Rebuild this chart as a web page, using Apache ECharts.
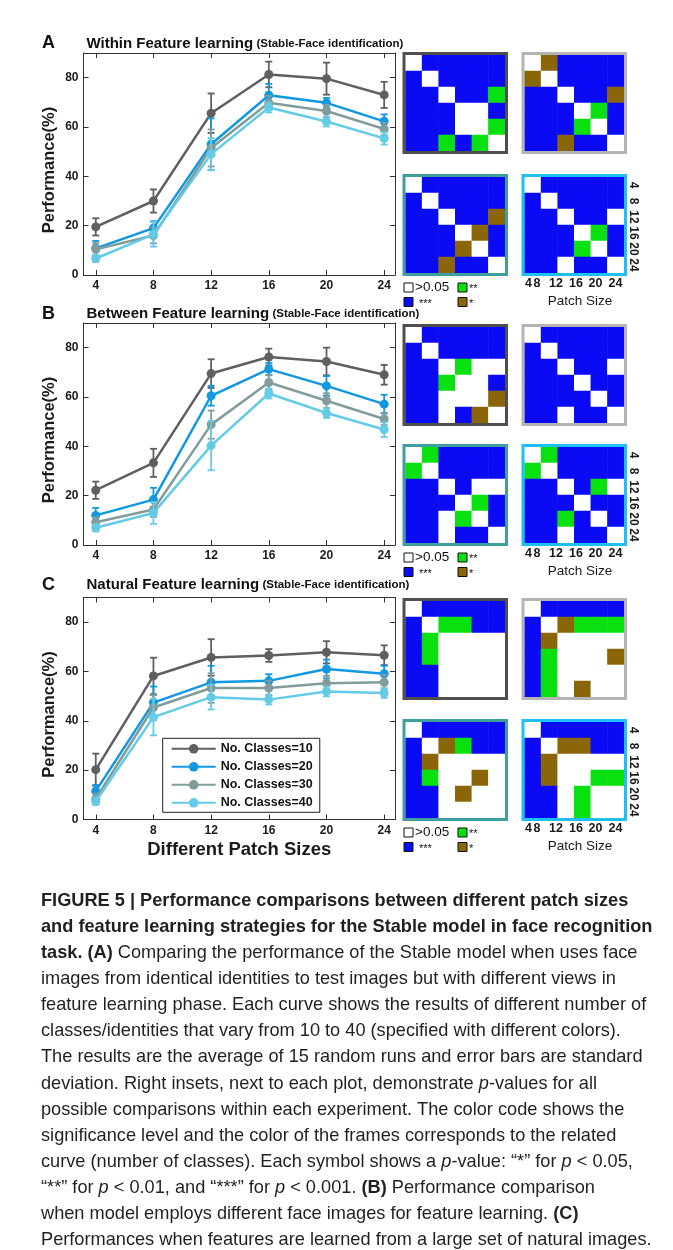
<!DOCTYPE html>
<html><head><meta charset="utf-8">
<script src="https://cdn.jsdelivr.net/npm/echarts@6/dist/echarts.min.js"></script>
<style>html,body{margin:0;padding:0;background:#fff}#c{width:673px;height:1250px}</style>
</head><body><div id="c"></div>
<script>
// ---------- DATA ----------
const patchSizes = [4, 8, 12, 16, 20, 24];
const patchLabels = ['4', '8', '12', '16', '20', '24'];
const yTicks = [0, 20, 40, 60, 80];
const classNames = ['No. Classes=10', 'No. Classes=20', 'No. Classes=30', 'No. Classes=40'];
const panelLetters = ['A', 'B', 'C'];
const panelTitles = ['Within Feature learning', 'Between Feature learning', 'Natural Feature learning'];
const panelSubtitle = '(Stable-Face identification)';
const yAxisTitle = 'Performance(%)';
const xAxisTitle = 'Different Patch Sizes';
const heatAxisTitle = 'Patch Size';
const sigLevels = ['>0.05', '*', '**', '***'];

// (A) Within feature learning: mean and SD, one row per class count (10,20,30,40)
const meanWithin = [
  [19.5, 30.0, 65.6, 81.3, 79.6, 73.0],
  [10.8, 19.0, 53.0, 72.9, 69.8, 62.3],
  [10.4, 16.0, 51.5, 69.8, 66.5, 59.2],
  [6.7, 16.5, 49.0, 67.9, 62.2, 55.4]
];
const sdWithin = [
  [3.5, 4.7, 8.0, 5.2, 6.5, 5.3],
  [3.0, 2.8, 10.5, 4.6, 2.0, 2.8],
  [2.5, 3.2, 7.5, 2.8, 2.5, 2.5],
  [1.5, 5.0, 6.5, 2.0, 2.0, 2.5]
];
// (B) Between feature learning
const meanBetween = [
  [22.2, 33.3, 69.5, 76.2, 74.4, 69.0],
  [12.0, 18.4, 60.5, 71.3, 64.5, 57.1],
  [9.2, 14.4, 48.8, 65.9, 58.5, 51.1],
  [7.0, 13.0, 40.3, 61.4, 53.5, 46.8]
];
const sdBetween = [
  [3.5, 5.7, 5.8, 3.4, 5.6, 4.0],
  [3.0, 4.8, 4.0, 2.5, 4.0, 3.8],
  [2.0, 3.0, 5.7, 3.0, 3.0, 2.5],
  [1.5, 4.4, 10.0, 2.0, 2.0, 3.0]
];
// (C) Natural feature learning
const meanNatural = [
  [20.2, 58.2, 65.7, 66.5, 67.8, 66.6],
  [11.5, 47.4, 55.6, 56.2, 61.0, 59.1],
  [8.4, 45.4, 53.3, 53.3, 55.2, 55.6],
  [7.4, 41.5, 49.6, 48.6, 51.9, 51.3]
];
const sdNatural = [
  [6.5, 7.4, 7.4, 2.6, 4.5, 4.0],
  [2.5, 6.5, 6.7, 2.7, 3.8, 3.2],
  [2.0, 5.0, 6.0, 3.0, 3.0, 3.0],
  [1.5, 7.4, 5.0, 2.0, 2.0, 2.0]
];
// p-value matrices (0: >0.05, 1: *, 2: **, 3: ***), rows/cols = patch sizes 4..24
// order: classes 10, 20, 30, 40
const pWithin = [
  ['033333', '303333', '330332', '333003', '333002', '332320'],
  ['013333', '103333', '330331', '333023', '333203', '331330'],
  ['033333', '303333', '330331', '333013', '333103', '331330'],
  ['033333', '303333', '330330', '333023', '333203', '330330']
];
const pBetween = [
  ['033333', '303333', '330200', '332003', '330001', '330310'],
  ['033333', '303333', '330330', '333033', '333303', '330330'],
  ['023333', '203333', '330300', '333023', '330203', '330330'],
  ['023333', '203333', '330320', '333033', '332303', '330330']
];
const pNatural = [
  ['033333', '302233', '320000', '320000', '330000', '330000'],
  ['033333', '301222', '310000', '320001', '320000', '320100'],
  ['033333', '301233', '310000', '320010', '330100', '330000'],
  ['033333', '301133', '310000', '310022', '330200', '330200']
];
const captionLines = [
  '{b|FIGURE 5 | Performance comparisons between different patch sizes}',
  '{b|and feature learning strategies for the Stable model in face recognition}',
  '{b|task. (A)} Comparing the performance of the Stable model when uses face',
  'images from identical identities to test images but with different views in',
  'feature learning phase. Each curve shows the results of different number of',
  'classes/identities that vary from 10 to 40 (specified with different colors).',
  'The results are the average of 15 random runs and error bars are standard',
  'deviation. Right insets, next to each plot, demonstrate {i|p}-values for all',
  'possible comparisons within each experiment. The color code shows the',
  'significance level and the color of the frames corresponds to the related',
  'curve (number of classes). Each symbol shows a {i|p}-value: \u201c*\u201d for {i|p} < 0.05,',
  '\u201c**\u201d for {i|p} < 0.01, and \u201c***\u201d for {i|p} < 0.001. {b|(B)} Performance comparison',
  'when model employs different face images for feature learning. {b|(C)}',
  'Performances when features are learned from a large set of natural images.'
];

// ---------- STYLE / LAYOUT ----------
const FONT = "'Liberation Sans', Arial, Helvetica, sans-serif";
const seriesColors = ['#5f5f5f', '#1098e0', '#829c9c', '#63cbe8'];
const frameColors = ['#4f4f4f', '#b4b4b4', '#3f9f9f', '#1ec0f4'];
const sigColors = ['#ffffff', '#8b6608', '#08e010', '#0a0af5'];
const L = {
  plotLeft: 83.5, plotWidth: 311.5, plotHeight: 222,
  plotTops: [53, 323, 597.5],
  titleY: [43.5, 314, 585],
  hmLefts: [405.5, 524.5],
  hmTops: [[55, 177], [327, 447], [601, 722]],
  hmW: 99.5, hmH: 96,
  xMin: 3.15, xMax: 24.75, yMin: 0, yMax: 90,
  capFont: 18.2
};
const panelData = [
  [meanWithin, sdWithin, pWithin],
  [meanBetween, sdBetween, pBetween],
  [meanNatural, sdNatural, pNatural]
];

const grid = [], xAxis = [], yAxis = [], series = [], graphic = [];
const heatSeriesIdx = [];
const axisCol = '#333';

function renderErr(params, api) {
  const x = api.value(0), lo = api.value(1), hi = api.value(2);
  const a = api.coord([x, lo]), b = api.coord([x, hi]);
  const hw = 3.5;
  const st = { stroke: api.visual('color'), lineWidth: 1.8 };
  return { type: 'group', children: [
    { type: 'line', shape: { x1: a[0], y1: a[1], x2: b[0], y2: b[1] }, style: st },
    { type: 'line', shape: { x1: a[0] - hw, y1: a[1], x2: a[0] + hw, y2: a[1] }, style: st },
    { type: 'line', shape: { x1: b[0] - hw, y1: b[1], x2: b[0] + hw, y2: b[1] }, style: st }
  ]};
}

panelData.forEach(([mean, sd, pm], k) => {
  const top = L.plotTops[k];
  const gi = grid.length;
  grid.push({ left: L.plotLeft, top: top, width: L.plotWidth, height: L.plotHeight });
  const xi = xAxis.length, yi = yAxis.length;
  const tickCommon = { inside: true, length: 5, lineStyle: { color: axisCol, width: 1 } };
  xAxis.push({
    type: 'value', gridIndex: gi, position: 'bottom', min: L.xMin, max: L.xMax,
    axisLine: { onZero: false, lineStyle: { color: axisCol, width: 1 } },
    axisTick: Object.assign({ customValues: patchSizes }, tickCommon),
    axisLabel: { customValues: patchSizes, margin: 5, fontFamily: FONT, fontWeight: 'bold', fontSize: 12, color: '#1a1a1a' },
    splitLine: { show: false },
    name: k === 2 ? xAxisTitle : '', nameLocation: 'middle', nameGap: 21,
    nameTextStyle: { fontFamily: FONT, fontWeight: 'bold', fontSize: 18.5, color: '#1a1a1a' }
  });
  xAxis.push({
    type: 'value', gridIndex: gi, position: 'top', min: L.xMin, max: L.xMax,
    axisLine: { onZero: false, lineStyle: { color: axisCol, width: 1 } },
    axisTick: Object.assign({ customValues: patchSizes }, tickCommon),
    axisLabel: { show: false }, splitLine: { show: false }
  });
  yAxis.push({
    type: 'value', gridIndex: gi, position: 'left', min: L.yMin, max: L.yMax,
    axisLine: { show: true, onZero: false, lineStyle: { color: axisCol, width: 1 } },
    axisTick: Object.assign({ show: true, customValues: yTicks }, tickCommon),
    axisLabel: { customValues: yTicks, margin: 5, fontFamily: FONT, fontWeight: 'bold', fontSize: 12, color: '#1a1a1a' },
    splitLine: { show: false },
    name: yAxisTitle, nameLocation: 'middle', nameGap: 26,
    nameTextStyle: { fontFamily: FONT, fontWeight: 'bold', fontSize: 16.5, color: '#1a1a1a', padding: [0, 12, 0, 0] }
  });
  yAxis.push({
    type: 'value', gridIndex: gi, position: 'right', min: L.yMin, max: L.yMax,
    axisLine: { show: true, onZero: false, lineStyle: { color: axisCol, width: 1 } },
    axisTick: Object.assign({ show: true, customValues: yTicks }, tickCommon),
    axisLabel: { show: false }, splitLine: { show: false }
  });
  mean.forEach((row, c) => {
    series.push({
      type: 'custom', name: 'err' + k + c, xAxisIndex: xi, yAxisIndex: yi,
      itemStyle: { color: seriesColors[c] }, z: 3 + c * 2, silent: true,
      renderItem: renderErr,
      encode: { x: 0, y: [1, 2] },
      data: patchSizes.map((x, i) => [x, row[i] - sd[c][i], row[i] + sd[c][i]])
    });
    series.push({
      type: 'line', name: classNames[c], xAxisIndex: xi, yAxisIndex: yi,
      data: patchSizes.map((x, i) => [x, row[i]]),
      symbol: 'circle', symbolSize: 9, showAllSymbol: true,
      lineStyle: { width: 2.5, color: seriesColors[c] },
      itemStyle: { color: seriesColors[c] }, z: 4 + c * 2, animation: false
    });
  });

  // panel letter + title
  graphic.push({ type: 'text', x: 42, y: L.titleY[k], z: 100,
    style: { text: panelLetters[k], font: "bold 18px " + FONT, fill: '#111', verticalAlign: 'middle' } });
  graphic.push({ type: 'text', x: 86.5, y: L.titleY[k], z: 100,
    style: { text: '{t|' + panelTitles[k] + '} {s|' + panelSubtitle + '}',
      font: "bold 12px " + FONT, fill: '#111', verticalAlign: 'middle',
      rich: { t: { font: "bold 15px " + FONT, fill: '#111' }, s: { font: "bold 11.5px " + FONT, fill: '#111' } } } });

  // heatmaps
  pm.forEach((mat, q) => {
    const left = L.hmLefts[q % 2], htop = L.hmTops[k][q >> 1];
    const hg = grid.length;
    grid.push({ left: left, top: htop, width: L.hmW, height: L.hmH });
    const hx = xAxis.length, hy = yAxis.length;
    xAxis.push({ type: 'category', gridIndex: hg, data: patchLabels, show: false });
    const showRight = q === 3;
    yAxis.push({ type: 'category', gridIndex: hg, data: patchLabels, inverse: true, position: 'right', show: showRight,
      axisLine: { show: false }, axisTick: { show: false },
      axisLabel: { interval: 0, hideOverlap: false, rotate: -90, margin: 3, fontFamily: FONT, fontWeight: 'bold', fontSize: 12, color: '#1a1a1a' } });
    const data = [];
    mat.forEach((r, ri) => r.split('').forEach((ch, ci) => data.push([ci, ri, +ch])));
    heatSeriesIdx.push(series.length);
    series.push({ type: 'heatmap', xAxisIndex: hx, yAxisIndex: hy, data: data, silent: true,
      emphasis: { disabled: true }, progressive: 0 });
    graphic.push({ type: 'rect', z: 100, silent: true,
      shape: { x: left - 1.5, y: htop - 1.5, width: L.hmW + 3, height: L.hmH + 3 },
      style: { fill: 'none', stroke: frameColors[q], lineWidth: 3 } });
  });

  // significance legend under bottom-left heatmap
  const blBottom = L.hmTops[k][1] + L.hmH;
  const rowsY = [blBottom + 14.5, blBottom + 29];
  const legItems = [
    [0, 404, rowsY[0], 415, 13.5], [2, 458, rowsY[0], 469, 11],
    [3, 404, rowsY[1], 419, 11], [1, 458, rowsY[1], 469, 11]
  ];
  legItems.forEach(([lv, sx, sy, tx, fs]) => {
    graphic.push({ type: 'rect', z: 100, shape: { x: sx, y: sy - 4.5, width: 9, height: 9 },
      style: { fill: sigColors[lv], stroke: '#111', lineWidth: 1 } });
    graphic.push({ type: 'text', x: tx, y: sy + (fs < 12 ? 1.5 : 0), z: 100,
      style: { text: sigLevels[lv], font: fs + 'px ' + FONT, fill: '#111', verticalAlign: 'middle' } });
  });
  // patch size labels under bottom-right heatmap
  const brLeft = L.hmLefts[1];
  const labOff = [4, 12.5, 31.5, 51.5, 71, 91];
  patchLabels.forEach((t, i) => {
    graphic.push({ type: 'text', x: brLeft + labOff[i], y: blBottom + 11, z: 100,
      style: { text: t, font: "bold 12.5px " + FONT, fill: '#1a1a1a', align: 'center', verticalAlign: 'middle' } });
  });
  graphic.push({ type: 'text', x: brLeft + 55.5, y: blBottom + 28.5, z: 100,
    style: { text: heatAxisTitle, font: "13.5px " + FONT, fill: '#1a1a1a', align: 'center', verticalAlign: 'middle' } });
});

// caption
captionLines.forEach((line, i) => {
  const f = L.capFont + 'px ' + FONT;
  graphic.push({ type: 'text', x: 41, y: 901 + i * 26.07, z: 100,
    style: { text: line, font: f, fill: '#231f20', verticalAlign: 'middle',
      rich: { b: { font: 'bold ' + f, fill: '#231f20' }, i: { font: 'italic ' + f, fill: '#231f20' } } } });
});

const chart = echarts.init(document.getElementById('c'), null, { renderer: 'canvas' });
chart.setOption({
  backgroundColor: '#ffffff',
  animation: false,
  grid: grid, xAxis: xAxis, yAxis: yAxis, series: series,
  visualMap: {
    type: 'piecewise', show: false, seriesIndex: heatSeriesIdx, dimension: 2,
    pieces: sigLevels.map((s, i) => ({ value: i, color: sigColors[i] }))
  },
  legend: {
    data: classNames, orient: 'vertical', left: 162.7, top: 738.3,
    itemWidth: 44, itemHeight: 12, itemGap: 5, padding: [4, 7, 3, 8],
    borderColor: '#222', borderWidth: 1, backgroundColor: '#fff',
    textStyle: { fontFamily: FONT, fontWeight: 'bold', fontSize: 12.5, color: '#111' }
  },
  graphic: graphic
});
</script></body></html>
